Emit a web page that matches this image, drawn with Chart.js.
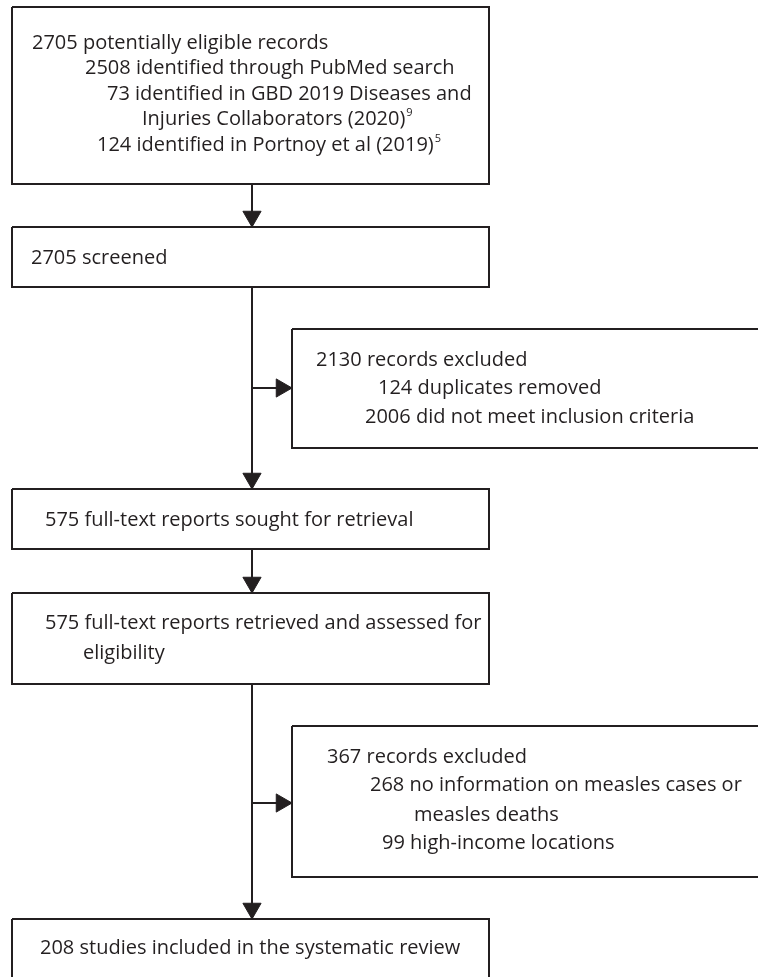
<!DOCTYPE html>
<html>
<head>
<meta charset="utf-8">
<script src="https://cdn.jsdelivr.net/npm/chart.js@4.4.1/dist/chart.umd.min.js"></script>
<style>
  html, body { margin: 0; padding: 0; background: #fff; }
  canvas { display: block; }
</style>
</head>
<body>
<canvas id="flow" width="758" height="977"></canvas>
<script>
// record counts
const stageCounts = [2705, 2705, 575, 575, 208];
const stageLabels = ['potentially eligible records', 'screened', 'full-text reports sought for retrieval',
  'full-text reports retrieved and assessed for', 'studies included in the systematic review'];
const sourceCounts = [2508, 73, 124];
const sourceLabels = ['identified through PubMed search', 'identified in GBD 2019 Diseases and', 'identified in Portnoy et al (2019)'];
const excludedCounts = [2130, 367];
const screenReasons = [124, 2006];
const screenReasonLabels = ['duplicates removed', 'did not meet inclusion criteria'];
const reportReasons = [268, 99];
const reportReasonLabels = ['no information on measles cases or', 'high-income locations'];

// layout (in scale units, 1 unit = 1 px)
const ink = '#231f20';
const spineX = 252;
const boxes = [
  [12, 489, 7, 184],
  [12, 489, 227, 287],
  [292, 790, 329, 448],
  [12, 489, 489, 549],
  [12, 489, 593, 684],
  [292, 790, 726, 877],
  [12, 489, 919, 1000]
];
// [x0, y0, x1, y1, direction]
const links = [
  [spineX, 184, spineX, 227, 'down'],
  [spineX, 287, spineX, 489, 'down'],
  [spineX, 388, 292, 388, 'right'],
  [spineX, 549, spineX, 593, 'down'],
  [spineX, 684, spineX, 919, 'down'],
  [spineX, 803, 292, 803, 'right']
];
const headR = 10.5;

// text lines: [text, x, y, superscript]
const texts = [
  [stageCounts[0] + ' ' + stageLabels[0], 32, 43],
  [sourceCounts[0] + ' ' + sourceLabels[0], 85, 68],
  [sourceCounts[1] + ' ' + sourceLabels[1], 107, 94],
  ['Injuries Collaborators (2020)', 142, 119, '9'],
  [sourceCounts[2] + ' ' + sourceLabels[2], 97, 145, '5'],
  [stageCounts[1] + ' ' + stageLabels[1], 31, 258],
  [excludedCounts[0] + ' records excluded', 316, 360],
  [screenReasons[0] + ' ' + screenReasonLabels[0], 378, 388],
  [screenReasons[1] + ' ' + screenReasonLabels[1], 365, 417],
  [stageCounts[2] + ' ' + stageLabels[2], 45, 520],
  [stageCounts[3] + ' ' + stageLabels[3], 45, 623],
  ['eligibility', 83, 653],
  [excludedCounts[1] + ' records excluded', 327, 757],
  [reportReasons[0] + ' ' + reportReasonLabels[0], 370, 785],
  ['measles deaths', 414, 815],
  [reportReasons[1] + ' ' + reportReasonLabels[1], 382, 843],
  [stageCounts[4] + ' ' + stageLabels[4], 40, 948]
];

const datasets = [];
boxes.forEach(b => {
  datasets.push({
    type: 'line',
    data: [{x: b[0], y: b[2]}, {x: b[1], y: b[2]}, {x: b[1], y: b[3]}, {x: b[0], y: b[3]}, {x: b[0], y: b[2]}],
    borderColor: ink, borderWidth: 2, pointRadius: 0, fill: false, tension: 0
  });
});
links.forEach(l => {
  datasets.push({
    type: 'line',
    data: [{x: l[0], y: l[1]}, {x: l[2], y: l[3]}],
    borderColor: ink, borderWidth: 2, pointRadius: 0, fill: false
  });
});
// arrow heads as rotated triangle points, centred one radius back from the tip
datasets.push({
  type: 'scatter',
  data: links.map(l => l[4] === 'down' ? {x: l[2], y: l[3] - headR} : {x: l[2] - headR, y: l[3]}),
  pointStyle: 'triangle',
  rotation: links.map(l => l[4] === 'down' ? 180 : 90),
  pointRadius: headR,
  backgroundColor: ink,
  borderColor: ink,
  borderWidth: 1
});

const textPlugin = {
  id: 'flowText',
  afterDatasetsDraw(chart) {
    const ctx = chart.ctx;
    const xs = chart.scales.x, ys = chart.scales.y;
    ctx.save();
    ctx.fillStyle = ink;
    ctx.textBaseline = 'middle';
    ctx.textAlign = 'left';
    texts.forEach(t => {
      const px = xs.getPixelForValue(t[1]);
      const py = ys.getPixelForValue(t[2]);
      ctx.font = '20px "Open Sans"';
      ctx.fillText(t[0], px, py);
      if (t[3]) {
        const w = ctx.measureText(t[0]).width;
        ctx.font = '11px "Open Sans"';
        ctx.fillText(t[3], px + w + 1, py - 6);
      }
    });
    ctx.restore();
  }
};

new Chart(document.getElementById('flow'), {
  type: 'line',
  data: { datasets: datasets },
  options: {
    responsive: false,
    animation: false,
    events: [],
    layout: { padding: 0, autoPadding: false },
    plugins: { legend: { display: false }, tooltip: { enabled: false } },
    scales: {
      x: { type: 'linear', min: 0, max: 758, display: false },
      y: { type: 'linear', min: 0, max: 977, reverse: true, display: false }
    }
  },
  plugins: [textPlugin]
});
</script>
</body>
</html>
